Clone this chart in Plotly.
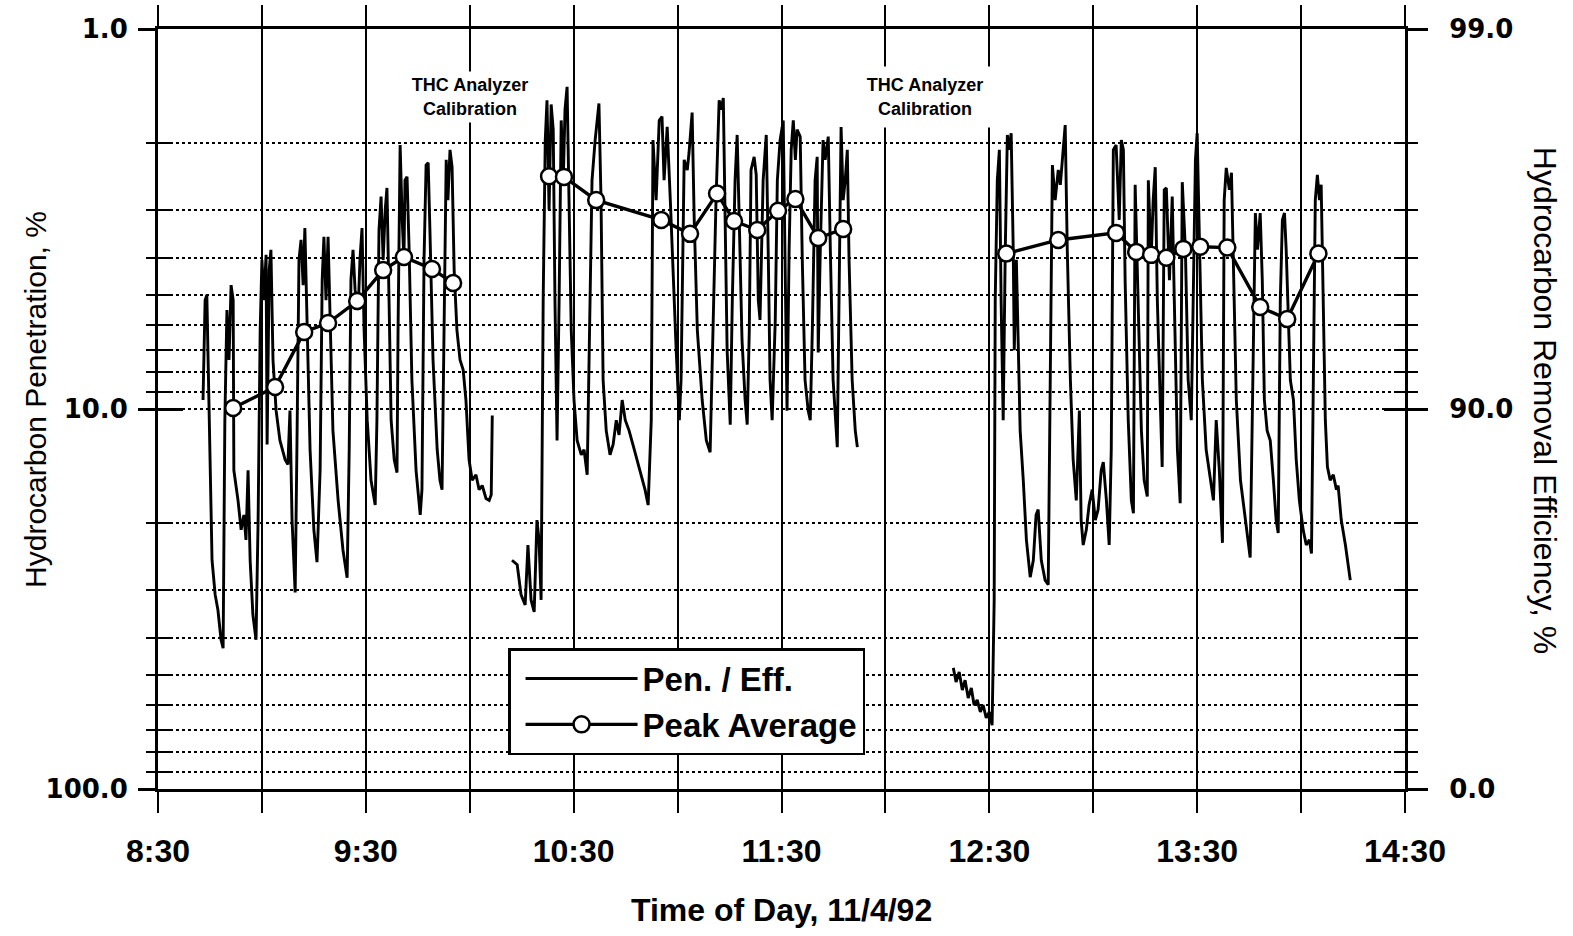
import plotly.graph_objects as go

# ---------------- data (time = minutes after midnight, penetration in %) ----------------
t_a = [523.0, 523.6, 524.1, 524.7, 525.6, 526.5, 527.3, 528.2, 528.8, 529.3,
       529.9, 530.5, 531.1, 531.7, 531.9, 533.1, 534.0, 534.8, 535.4, 536.0,
       536.6, 537.4, 538.3, 538.9, 539.5, 540.0, 540.6, 541.2, 541.5, 542.1,
       542.6, 543.2, 544.1, 545.2, 546.7, 547.5, 548.1, 548.7, 549.6, 550.1,
       550.7, 551.3, 551.9, 552.4, 553.0, 553.9, 555.0, 555.9, 556.8, 557.4,
       557.9, 558.5, 559.1, 559.7, 560.5, 562.0, 563.4, 564.6, 565.2, 565.7,
       566.3, 566.9, 567.8, 568.3, 568.9, 569.5, 570.4, 571.5, 572.7, 573.2,
       573.8, 574.4, 575.0, 575.6, 576.1, 576.7, 577.3, 578.2, 579.0, 579.3,
       579.9, 580.5, 581.0, 581.3, 581.9, 582.5, 583.3, 584.5, 585.7, 586.2,
       586.8, 587.4, 588.0, 588.5, 589.4, 590.6, 591.4, 592.0, 592.6, 593.2,
       593.7, 594.3, 594.9, 595.5, 596.3, 597.2, 598.1, 598.9, 599.8, 600.7,
       601.8, 602.7, 603.6, 604.7, 605.6, 606.2, 606.5]
p_a = [9.47, 5.17, 5.01, 9.47, 25.0, 30.8, 33.8, 40.5, 42.6, 10.7,
       5.49, 7.43, 4.72, 5.17, 14.5, 17.4, 20.8, 19.0, 22.1, 14.5,
       25.0, 34.8, 40.5, 19.6, 6.20, 4.05, 5.17, 3.93, 12.4, 4.31,
       3.81, 7.43, 10.1, 12.1, 13.6, 14.0, 10.1, 19.6, 30.4, 12.8,
       4.05, 3.59, 4.72, 3.34, 5.49, 12.8, 20.8, 25.3, 14.5, 4.58,
       3.52, 5.17, 3.52, 5.83, 11.4, 17.4, 23.5, 27.8, 12.8, 4.58,
       3.81, 4.86, 5.49, 4.05, 3.34, 6.20, 10.7, 15.4, 17.9, 10.7,
       3.38, 2.76, 4.05, 2.99, 2.62, 5.17, 10.7, 13.6, 14.7, 6.20,
       2.02, 3.18, 4.05, 2.50, 2.45, 3.81, 8.39, 14.5, 19.0, 16.3,
       4.05, 2.28, 2.25, 3.38, 7.43, 12.8, 15.4, 16.3, 6.20, 2.21,
       2.82, 2.08, 2.31, 4.31, 6.20, 7.43, 7.89, 9.47, 13.6, 15.4,
       14.9, 16.3, 15.9, 17.2, 17.4, 16.8, 10.4]

t_b = [612.2, 613.7, 614.8, 616.0, 616.8, 617.7, 618.6, 619.4, 620.0, 620.6,
       621.2, 621.8, 622.3, 622.9, 623.5, 624.1, 624.6, 625.2, 625.8, 626.4,
       627.0, 627.5, 628.1, 628.7, 629.3, 630.1, 631.0, 632.2, 633.0, 633.9,
       634.5, 635.3, 636.2, 636.8, 637.3, 637.9, 638.5, 639.4, 640.5, 641.4,
       642.3, 643.1, 644.0, 644.9, 646.0, 647.5, 649.2, 650.6, 651.5, 652.4,
       652.9, 653.8, 654.7, 655.5, 656.1, 657.0, 657.9, 658.7, 659.6, 660.5,
       661.0, 661.9, 662.8, 663.3, 664.2, 664.8, 665.7, 667.1, 668.3, 669.4,
       670.3, 671.1, 672.0, 672.6, 673.2, 673.7, 674.3, 675.2, 675.8, 676.6,
       677.2, 677.8, 678.6, 679.5, 680.1, 680.7, 681.2, 682.1, 682.7, 683.3,
       683.8, 684.7, 685.6, 686.2, 686.7, 687.3, 688.2, 688.8, 689.6, 690.5,
       691.1, 691.6, 692.2, 692.8, 693.4, 694.0, 694.5, 695.4, 696.0, 696.8,
       697.7, 698.3, 698.9, 699.7, 700.3, 700.6, 701.2, 702.0, 702.6, 703.5,
       704.1, 704.9, 706.1, 706.7, 707.2, 707.8, 708.4, 709.0, 709.5, 710.4,
       711.3, 711.9]
p_b = [25.0, 25.7, 30.8, 32.8, 22.8, 31.8, 34.2, 19.6, 22.1, 31.8,
       5.17, 1.96, 1.54, 2.99, 1.58, 1.84, 5.17, 12.1, 5.17, 1.74,
       2.50, 1.63, 1.42, 2.82, 6.20, 9.47, 12.1, 13.2, 12.8, 14.9,
       7.00, 2.50, 1.96, 1.74, 1.57, 2.82, 8.39, 11.4, 13.2, 12.4,
       10.7, 11.7, 9.47, 10.7, 11.4, 12.8, 14.5, 16.3, 17.9, 10.7,
       1.96, 2.82, 1.74, 1.70, 2.50, 1.81, 2.82, 4.44, 7.00, 10.7,
       8.39, 2.21, 2.35, 2.12, 1.66, 3.18, 6.20, 9.47, 12.1, 13.0,
       5.83, 2.82, 1.54, 1.63, 1.52, 3.18, 7.00, 11.0, 5.17, 2.50,
       1.90, 3.18, 6.58, 9.47, 11.0, 6.20, 2.35, 2.17, 2.42, 5.17,
       5.83, 2.50, 1.90, 4.05, 8.39, 10.7, 5.83, 2.50, 1.96, 1.74,
       5.17, 10.1, 3.81, 2.08, 1.74, 2.21, 1.84, 1.92, 4.05, 8.39,
       10.1, 10.7, 6.20, 2.50, 2.17, 7.1, 3.81, 1.96, 2.21, 1.92,
       3.81, 8.39, 12.6, 5.17, 1.81, 2.82, 2.50, 2.08, 4.05, 8.39,
       11.4, 12.6]

t_c = [739.6, 740.4, 741.3, 742.2, 743.0, 743.9, 744.8, 745.6, 746.5, 747.4,
       748.2, 749.1, 750.0, 750.8, 751.4, 751.7, 752.3, 752.9, 753.4, 754.0,
       754.6, 755.2, 755.7, 756.3, 756.9, 757.2, 757.8, 758.3, 758.9, 759.8,
       760.7, 761.8, 762.7, 763.5, 764.1, 765.0, 766.1, 767.0, 767.6, 768.2,
       769.0, 769.9, 770.5, 771.3, 771.9, 772.5, 773.4, 774.2, 775.1, 776.0,
       776.5, 777.1, 778.0, 778.8, 779.7, 780.6, 781.4, 782.3, 782.9, 783.8,
       784.6, 785.2, 785.8, 786.6, 787.5, 788.1, 788.7, 789.2, 790.1, 791.0,
       791.6, 792.1, 793.0, 793.9, 794.7, 795.6, 795.9, 796.7, 797.3, 797.9,
       798.5, 799.4, 799.9, 800.5, 801.1, 802.0, 802.8, 803.4, 804.3, 805.1,
       805.7, 806.6, 807.4, 808.3, 808.9, 809.5, 810.0, 810.6, 811.5, 812.6,
       813.8, 814.7, 815.5, 816.4, 817.3, 817.8, 818.4, 819.3, 819.9, 820.4,
       821.3, 822.5, 823.9, 824.8, 825.3, 825.9, 826.8, 827.4, 828.2, 828.8,
       829.4, 830.2, 831.1, 832.0, 832.8, 833.4, 834.0, 834.6, 835.2, 835.7,
       836.3, 836.9, 837.8, 838.6, 839.5, 840.6, 841.5, 842.4, 843.0, 843.5,
       844.1, 844.7, 845.3, 845.8, 846.4, 847.0, 847.6, 848.4, 849.3, 850.2,
       850.7, 851.6, 852.8, 853.6, 854.2]
p_c = [48.0, 52.3, 49.2, 54.9, 51.7, 57.6, 54.2, 60.1, 58.3, 62.7,
       60.1, 65.0, 62.7, 67.9, 31.8, 5.17, 2.50, 2.08, 5.17, 10.7,
       3.81, 1.90, 2.08, 1.88, 3.81, 7.00, 4.05, 6.20, 11.4, 15.4,
       22.1, 27.7, 25.0, 19.0, 18.4, 25.0, 28.2, 29.0, 9.47, 2.28,
       2.82, 2.35, 2.57, 2.08, 1.79, 3.81, 8.39, 13.6, 17.4, 10.1,
       19.6, 22.8, 20.8, 17.9, 16.3, 19.6, 18.4, 14.5, 13.8, 17.4,
       22.8, 12.8, 2.08, 2.02, 3.18, 1.96, 2.08, 4.58, 10.7, 17.4,
       18.8, 2.57, 5.17, 11.4, 15.4, 17.0, 2.50, 4.05, 2.82, 2.31,
       5.17, 10.7, 14.2, 2.65, 2.62, 4.58, 2.76, 5.17, 12.8, 17.7,
       2.53, 3.81, 8.39, 10.7, 5.17, 2.21, 1.88, 3.59, 8.39, 12.8,
       15.4, 17.4, 10.7, 14.5, 22.5, 2.82, 2.32, 2.65, 2.39, 4.05,
       9.47, 15.4, 19.6, 22.8, 24.6, 10.7, 3.05, 3.81, 3.05, 4.58,
       9.47, 11.4, 12.1, 15.4, 19.6, 21.2, 5.17, 3.18, 3.05, 3.81,
       5.83, 8.39, 9.47, 13.6, 17.4, 20.8, 22.8, 22.1, 24.0, 9.47,
       2.82, 2.42, 2.82, 2.57, 5.17, 10.7, 14.2, 15.4, 14.9, 16.3,
       15.9, 19.6, 22.8, 25.7, 28.2]

# Peak averages
pk_t_a = [531.7, 543.8, 552.2, 559.1, 567.5, 575.0, 581.0, 589.1, 595.2]
pk_v_a = [9.94, 8.75, 6.27, 5.94, 5.20, 4.31, 3.98, 4.28, 4.66]
pk_t_b = [622.9, 627.2, 636.5, 655.3, 663.6, 671.4, 676.3, 683.0, 689.0, 694.0, 700.6, 707.8]
pk_v_b = [2.44, 2.45, 2.82, 3.18, 3.46, 2.71, 3.20, 3.38, 3.01, 2.80, 3.55, 3.36]
pk_t_c = [754.9, 769.9, 786.6, 792.4, 796.7, 801.1, 806.0, 810.9, 818.7, 828.2, 836.0, 845.0]
pk_v_c = [3.90, 3.59, 3.44, 3.86, 3.93, 4.00, 3.79, 3.74, 3.76, 5.39, 5.80, 3.90]

# Axis ticks
x_tick_vals = [510, 540, 570, 600, 630, 660, 690, 720, 750, 780, 810, 840, 870]
x_tick_text = ["8:30", "", "9:30", "", "10:30", "", "11:30", "", "12:30", "", "13:30", "", "14:30"]
y_major = [1, 10, 100]
y_major_text = ["1.0", "10.0", "100.0"]
eff_text = ["99.0", "90.0", "0.0"]
y_minor = [2, 3, 4, 5, 6, 7, 8, 9, 20, 30, 40, 50, 60, 70, 80, 90]

# ---------------- figure ----------------
pen_t = t_a + [None] + t_b + [None] + t_c
pen_v = p_a + [None] + p_b + [None] + p_c
pk_t = pk_t_a + [None] + pk_t_b + [None] + pk_t_c
pk_v = pk_v_a + [None] + pk_v_b + [None] + pk_v_c

fig = go.Figure()
fig.add_trace(go.Scatter(x=pen_t, y=pen_v, mode="lines", name="Pen. / Eff.",
                         line=dict(color="black", width=2.9), connectgaps=False))
fig.add_trace(go.Scatter(x=pk_t, y=pk_v, mode="lines+markers", name="Peak Average",
                         line=dict(color="black", width=3.4), connectgaps=False,
                         marker=dict(symbol="circle", size=16, color="white",
                                     line=dict(color="black", width=2.5))))
# empty helper traces so that the overlay axes (right axis, inside ticks) get drawn
for ax in ["y2", "y3", "y4"]:
    fig.add_trace(go.Scatter(x=[None], y=[None], yaxis=ax, mode="lines",
                             showlegend=False, hoverinfo="skip"))

DOT = "3px,3px"
TF = "Liberation Sans, Arial, sans-serif"
YF = dict(family="DejaVu Sans, Verdana, sans-serif", size=26, color="black", weight="bold")

base_y = dict(type="log", range=[2, 0], tickmode="array", tickvals=y_major,
              tickcolor="black", tickwidth=2.5, zeroline=False, automargin=False,
              fixedrange=True)

fig.update_layout(
    width=1573, height=936,
    margin=dict(l=158, r=168, t=29, b=147, autoexpand=False),
    paper_bgcolor="white", plot_bgcolor="white",
    showlegend=True,
    legend=dict(x=0.2807, y=0.1855, xanchor="left", yanchor="top",
                bgcolor="white", bordercolor="black", borderwidth=2.5,
                font=dict(family=TF, size=33, color="black", weight="bold"),
                itemwidth=112, indentation=10, tracegroupgap=0),
    xaxis=dict(range=[510, 870], tickmode="array", tickvals=x_tick_vals, ticktext=x_tick_text,
               ticks="outside", ticklen=21, tickwidth=2, tickcolor="black",
               showline=True, linecolor="black", linewidth=3, mirror="ticks",
               showgrid=True, gridcolor="black", gridwidth=2.2, zeroline=False,
               automargin=False,
               tickfont=dict(family=TF, size=32, color="black", weight="bold"),
               ticklabelstandoff=11),
    yaxis=dict(**base_y, ticktext=y_major_text, side="left", ticks="outside", ticklen=17,
               showline=True, linecolor="black", linewidth=3,
               showgrid=True, gridcolor="black", gridwidth=2, griddash=DOT,
               minor=dict(tickmode="array", tickvals=y_minor, ticks="outside", ticklen=9,
                          tickwidth=2, tickcolor="black", showgrid=True,
                          gridcolor="black", gridwidth=2, griddash=DOT),
               tickfont=YF, ticklabelstandoff=5),
    yaxis3=dict(**base_y, overlaying="y", side="left", ticks="inside", ticklen=25,
                showticklabels=False, showgrid=False, showline=False,
                minor=dict(tickmode="array", tickvals=y_minor, ticks="inside", ticklen=15,
                           tickwidth=2, tickcolor="black", showgrid=False)),
    yaxis2=dict(**base_y, ticktext=eff_text, overlaying="y", side="right", ticks="outside",
                ticklen=20, showline=True, linecolor="black", linewidth=3, showgrid=False,
                minor=dict(tickmode="array", tickvals=y_minor, ticks="outside", ticklen=10,
                           tickwidth=2, tickcolor="black", showgrid=False),
                tickfont=YF, ticklabelstandoff=16),
    yaxis4=dict(**base_y, overlaying="y", side="right", ticks="inside", ticklen=21,
                showticklabels=False, showgrid=False, showline=False,
                minor=dict(tickmode="array", tickvals=y_minor, ticks="inside", ticklen=11,
                           tickwidth=2, tickcolor="black", showgrid=False)),
)

ann_font = dict(family=TF, size=18, color="black")
fig.add_annotation(x=600, y=0.9105, xref="x", yref="paper", showarrow=False,
                   xanchor="center", yanchor="middle",
                   text="<b>THC Analyzer</b><br><b>Calibration</b>", font=ann_font,
                   bgcolor="white", width=126, height=50, borderpad=0)
fig.add_annotation(x=731.5, y=0.9105, xref="x", yref="paper", showarrow=False,
                   xanchor="center", yanchor="middle",
                   text="<b>THC Analyzer</b><br><b>Calibration</b>", font=ann_font,
                   bgcolor="white", width=134, height=60, borderpad=0)
fig.add_annotation(x=-0.0978, y=0.512, xref="paper", yref="paper", showarrow=False,
                   xanchor="center", yanchor="middle",
                   text="Hydrocarbon Penetration, %", textangle=-90,
                   font=dict(family=TF, size=30, color="black"))
fig.add_annotation(x=1.1123, y=0.512, xref="paper", yref="paper", showarrow=False,
                   xanchor="center", yanchor="middle",
                   text="Hydrocarbon Removal Efficiency, %", textangle=90,
                   font=dict(family=TF, size=32, color="black"))
fig.add_annotation(x=0.5, y=-0.159, xref="paper", yref="paper", showarrow=False,
                   xanchor="center", yanchor="middle",
                   text="<b>Time of Day, 11/4/92</b>",
                   font=dict(family=TF, size=32, color="black"))

fig.write_html("out.html")
